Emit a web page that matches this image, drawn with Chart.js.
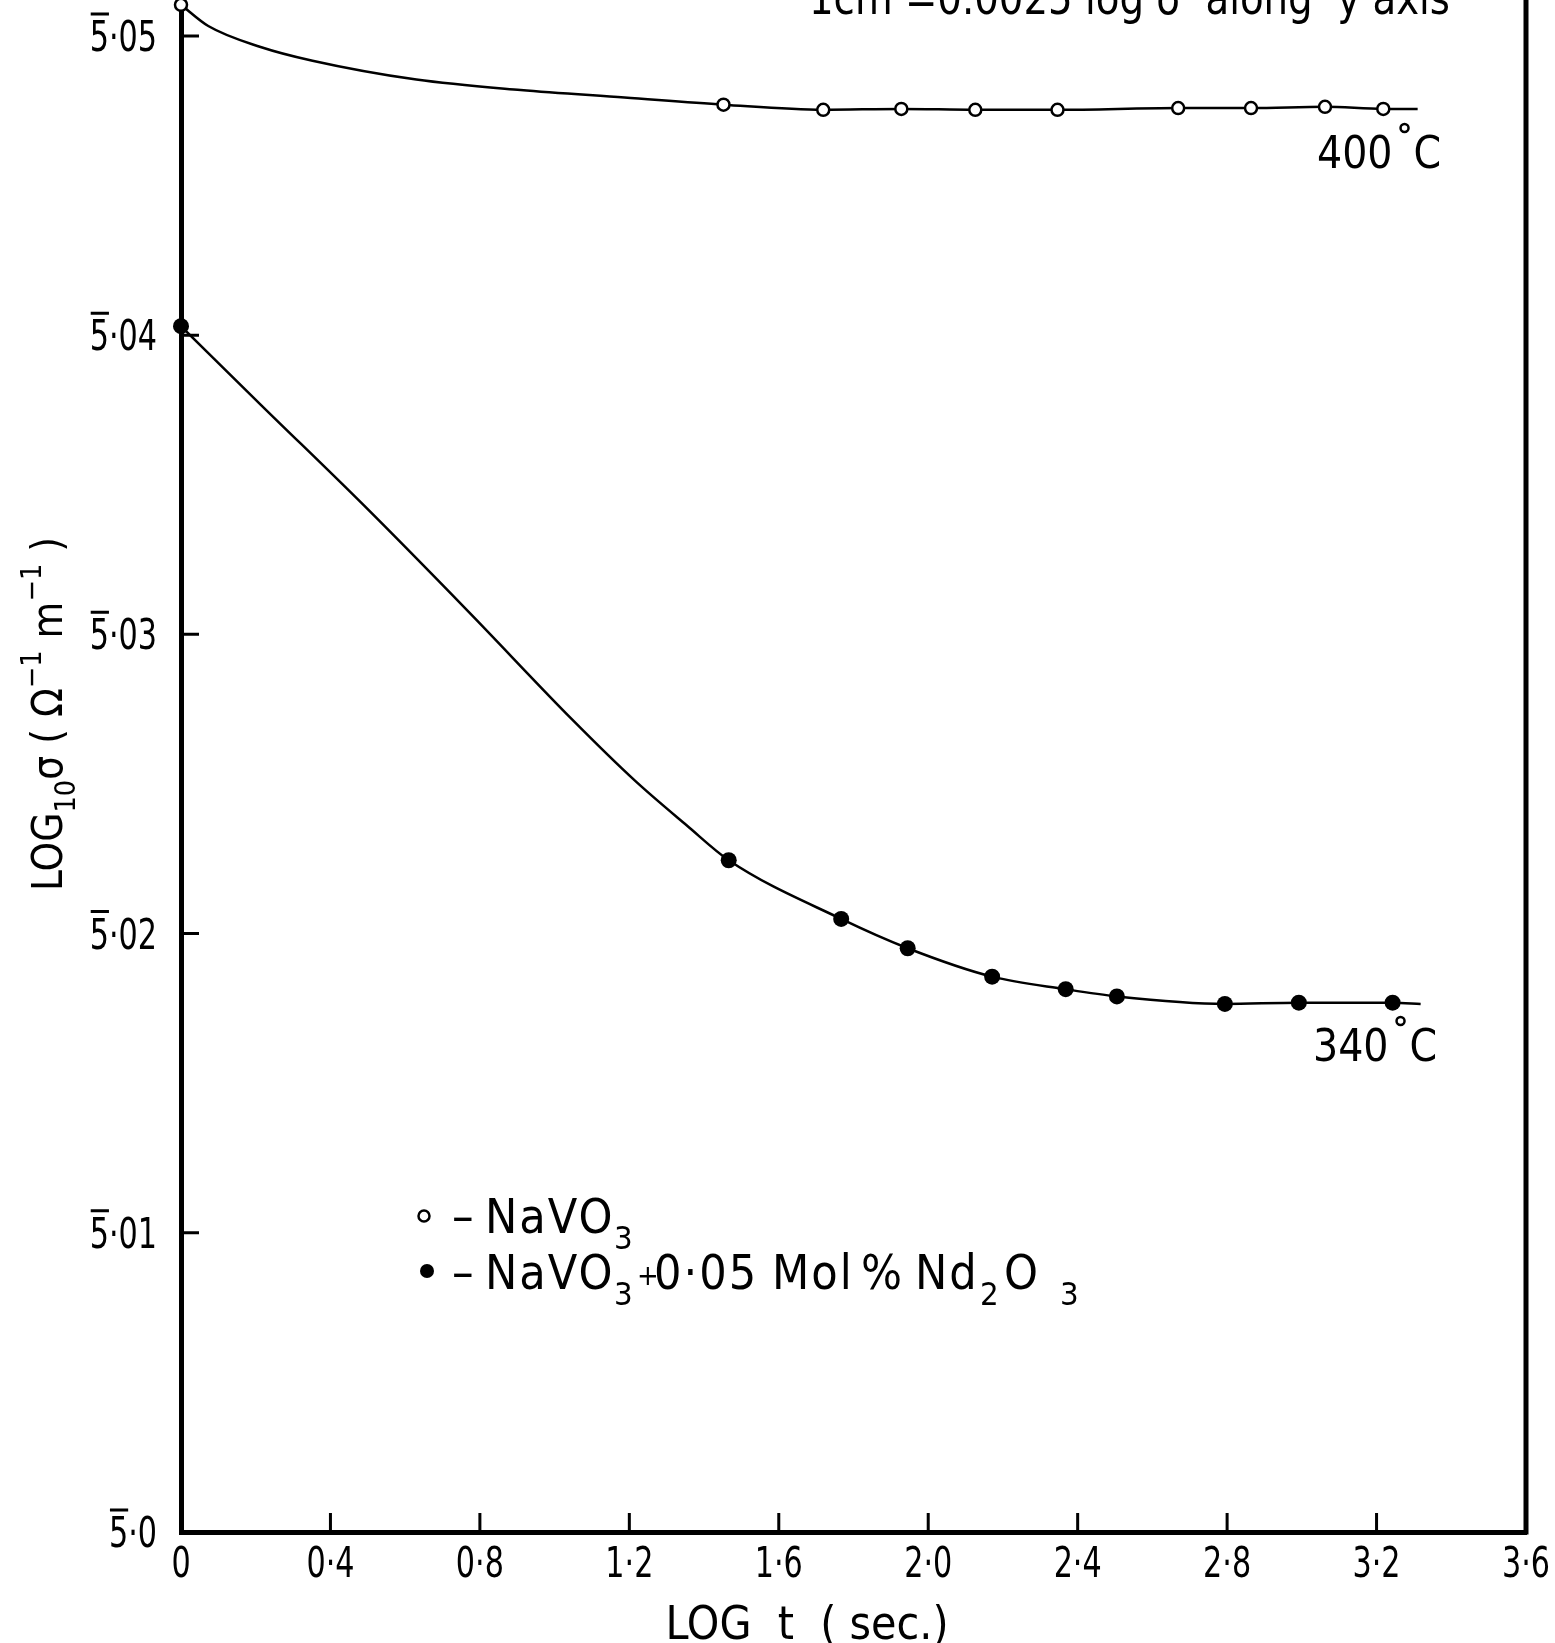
<!DOCTYPE html>
<html>
<head>
<meta charset="utf-8">
<script src="https://cdn.jsdelivr.net/npm/chart.js@4.4.0/dist/chart.umd.min.js"></script>
<style>
  html, body { margin: 0; background: #fff; }
  #wrap { width: 1555px; height: 1643px; }
</style>
</head>
<body>
<div id="wrap"><canvas id="chart"></canvas></div>
<script>
// NaVO3, 400 °C: readings (open circles) and the drawn curve between them
const pureX = [0, 1.452, 1.719, 1.928, 2.126, 2.346, 2.669, 2.864, 3.062, 3.218];
const pureY = [5.05104, 5.04770, 5.04753, 5.04756, 5.04753, 5.04753, 5.04759, 5.04759, 5.04763, 5.04756];
const pureCurveX = [0.073, 0.213, 0.352, 0.630, 0.909, 1.187, 3.31];
const pureCurveY = [5.05033, 5.04963, 5.04917, 5.04854, 5.04819, 5.04794, 5.04756];

// NaVO3 + 0.05 mol % Nd2O3, 340 °C: readings (filled circles) and curve
const dopedX = [0, 1.466, 1.767, 1.945, 2.171, 2.368, 2.505, 2.794, 2.992, 3.243];
const dopedY = [5.0403, 5.02245, 5.02049, 5.01951, 5.01856, 5.01814, 5.01790, 5.01765, 5.01769, 5.01769];
const dopedCurveX = [0.213, 0.491, 0.770, 1.048, 1.215, 1.354, 3.318];
const dopedCurveY = [5.03768, 5.03429, 5.03075, 5.02714, 5.02511, 5.02361, 5.01765];

const xTicks = [0, 0.4, 0.8, 1.2, 1.6, 2.0, 2.4, 2.8, 3.2, 3.6];
const yTicks = [5.0, 5.01, 5.02, 5.03, 5.04, 5.05];

const FONT = "'DejaVu Sans Condensed', 'DejaVu Sans', sans-serif";
const TICK_SIZE = 42;
const NARROW = 0.8;

function toPoints(xs, ys) {
  return xs.map((x, i) => ({ x, y: ys[i] }));
}

function curve(markX, markY, fitX, fitY) {
  return toPoints(markX.concat(fitX), markY.concat(fitY)).sort((a, b) => a.x - b.x);
}

function xLabel(value) {
  return Math.abs(value) < 1e-9 ? '0' : value.toFixed(1).replace('.', '·');
}

function yLabel(value) {
  const hundredths = Math.round((value - 5) * 100);
  return hundredths === 0 ? '5·0' : `5·0${hundredths}`;
}

// tick lettering is narrower than the font, so squeeze it sideways
function narrowText(ctx, text, x, y, align) {
  ctx.save();
  ctx.translate(x, y);
  ctx.scale(NARROW, 1);
  ctx.textAlign = align;
  ctx.fillText(text, 0, 0);
  ctx.restore();
}

// runs: [text, x, shift, scale]; shift > 0 lowers a subscript, < 0 raises
function placeRuns(ctx, runs, y, size) {
  ctx.textAlign = 'left';
  ctx.textBaseline = 'alphabetic';
  for (const [text, x, shift = 0, scale = shift ? 0.68 : 1] of runs) {
    ctx.font = `${size * scale}px ${FONT}`;
    ctx.fillText(text, x, y + shift * size);
  }
}

function flowRuns(ctx, runs, x, y, size, align = 'left') {
  const fontFor = shift => `${shift ? size * 0.68 : size}px ${FONT}`;
  let total = 0;
  for (const [text, shift = 0] of runs) {
    ctx.font = fontFor(shift);
    total += ctx.measureText(text).width;
  }
  if (align === 'center') x -= total / 2;
  ctx.textAlign = 'left';
  ctx.textBaseline = 'alphabetic';
  for (const [text, shift = 0] of runs) {
    ctx.font = fontFor(shift);
    ctx.fillText(text, x, y + shift * size);
    x += ctx.measureText(text).width;
  }
}

function degreeLabel(ctx, digits, x, y) {
  ctx.font = `44px ${FONT}`;
  ctx.textAlign = 'left';
  ctx.textBaseline = 'alphabetic';
  ctx.fillText(digits, x, y);
  const w = ctx.measureText(digits).width;
  ctx.beginPath();
  ctx.lineWidth = 2.5;
  ctx.arc(x + w + 12, y - 40, 4, 0, Math.PI * 2);
  ctx.stroke();
  ctx.fillText('C', x + w + 21, y);
}

const decorations = {
  id: 'decorations',
  beforeDatasetsDraw(chart) {
    const { ctx, chartArea, scales } = chart;
    ctx.save();
    ctx.strokeStyle = '#000';
    ctx.fillStyle = '#000';

    // right-hand frame
    ctx.lineWidth = 5;
    ctx.beginPath();
    ctx.moveTo(chartArea.right, 0);
    ctx.lineTo(chartArea.right, chartArea.bottom + 2.5);
    ctx.stroke();

    // tick marks pointing into the plot
    ctx.lineWidth = 3;
    ctx.beginPath();
    for (const v of xTicks.slice(1, -1)) {
      const px = scales.x.getPixelForValue(v);
      ctx.moveTo(px, chartArea.bottom);
      ctx.lineTo(px, chartArea.bottom - 19);
    }
    for (const v of yTicks.slice(1)) {
      const py = scales.y.getPixelForValue(v);
      ctx.moveTo(chartArea.left, py);
      ctx.lineTo(chartArea.left + 18, py);
    }
    ctx.stroke();

    // tick labels
    ctx.font = `${TICK_SIZE}px ${FONT}`;
    ctx.textBaseline = 'alphabetic';
    for (const v of xTicks) {
      narrowText(ctx, xLabel(v), scales.x.getPixelForValue(v), chartArea.bottom + 45, 'center');
    }
    const labelRight = chartArea.left - 24;
    const five = ctx.measureText('5').width * NARROW;
    ctx.beginPath();
    for (const v of yTicks) {
      const py = scales.y.getPixelForValue(v);
      const text = yLabel(v);
      narrowText(ctx, text, labelRight, py + 15, 'right');
      // bar over the characteristic: 5-bar means -5
      const start = labelRight - ctx.measureText(text).width * NARROW;
      ctx.moveTo(start + 1, py - 22);
      ctx.lineTo(start + five, py - 22);
    }
    ctx.stroke();
    ctx.restore();
  },
  afterDraw(chart) {
    const { ctx } = chart;
    ctx.save();
    ctx.fillStyle = '#000';
    ctx.strokeStyle = '#000';

    // scale note along the top edge
    ctx.font = `46px ${FONT}`;
    ctx.textAlign = 'left';
    ctx.textBaseline = 'alphabetic';
    ctx.fillText('1cm =0.0025 log σ  along  y axis', 809, 14, 641);

    degreeLabel(ctx, '400', 1317, 168);
    degreeLabel(ctx, '340', 1313, 1061);

    // legend
    ctx.lineWidth = 2.5;
    ctx.beginPath();
    ctx.arc(424, 1216, 5.5, 0, Math.PI * 2);
    ctx.stroke();
    ctx.beginPath();
    ctx.arc(427, 1271, 7, 0, Math.PI * 2);
    ctx.fill();
    ctx.letterSpacing = '2px';
    placeRuns(ctx, [['–', 452], ['NaVO', 485], ['3', 614, 0.33]], 1233, 48);
    placeRuns(ctx, [
      ['–', 452], ['NaVO', 485], ['3', 614, 0.33],
      ['+', 637, -0.08, 0.6], ['0·05', 654], ['Mol', 772], ['%', 861],
      ['Nd', 915], ['2', 980, 0.33], ['O', 1004], ['3', 1060, 0.33],
    ], 1289, 48);
    ctx.letterSpacing = '0px';

    // axis titles
    flowRuns(ctx, [['LOG  t  ( sec.)']], 807, 1639, 46, 'center');
    ctx.translate(62, 714);
    ctx.rotate(-Math.PI / 2);
    flowRuns(ctx, [['LOG'], ['10', 0.3], ['σ ( Ω'], ['−1', -0.5], [' m'], ['−1', -0.5], [' )']], 0, 0, 42, 'center');
    ctx.restore();
  },
};

new Chart(document.querySelector('#chart'), {
  type: 'scatter',
  data: {
    datasets: [
      {
        label: 'NaVO3',
        data: toPoints(pureX, pureY),
        pointRadius: 6,
        pointBorderWidth: 2.5,
        pointBorderColor: '#000',
        pointBackgroundColor: '#fff',
        clip: false,
        order: 0,
      },
      {
        label: 'NaVO3 + 0.05 Mol % Nd2O3',
        data: toPoints(dopedX, dopedY),
        pointRadius: 8,
        pointBorderWidth: 0,
        pointBackgroundColor: '#000',
        clip: false,
        order: 0,
      },
      {
        label: '400 °C curve',
        data: curve(pureX, pureY, pureCurveX, pureCurveY),
        showLine: true,
        pointRadius: 0,
        borderColor: '#000',
        borderWidth: 2.5,
        cubicInterpolationMode: 'monotone',
        order: 1,
      },
      {
        label: '340 °C curve',
        data: curve(dopedX, dopedY, dopedCurveX, dopedCurveY),
        showLine: true,
        pointRadius: 0,
        borderColor: '#000',
        borderWidth: 2.5,
        cubicInterpolationMode: 'monotone',
        order: 1,
      },
    ],
  },
  options: {
    responsive: true,
    maintainAspectRatio: false,
    animation: false,
    layout: { autoPadding: false, padding: { left: 0, right: 29, top: 0, bottom: 0 } },
    plugins: {
      legend: { display: false },
      tooltip: { enabled: false },
    },
    scales: {
      x: {
        type: 'linear',
        min: 0,
        max: 3.6,
        grid: { display: false, drawTicks: false },
        border: { display: true, width: 5, color: '#000' },
        ticks: { display: false },
        afterBuildTicks: scale => { scale.ticks = xTicks.map(value => ({ value })); },
        afterFit: scale => {
          scale.height = 111;
          scale.paddingLeft = 0;
          scale.paddingRight = 0;
        },
      },
      y: {
        type: 'linear',
        min: 5.0,
        max: 5.0512,
        grid: { display: false, drawTicks: false },
        border: { display: true, width: 5, color: '#000' },
        ticks: { display: false },
        afterBuildTicks: scale => { scale.ticks = yTicks.map(value => ({ value })); },
        afterFit: scale => {
          scale.width = 181;
          scale.paddingTop = 0;
          scale.paddingBottom = 0;
        },
      },
    },
  },
  plugins: [decorations],
});
</script>
</body>
</html>
